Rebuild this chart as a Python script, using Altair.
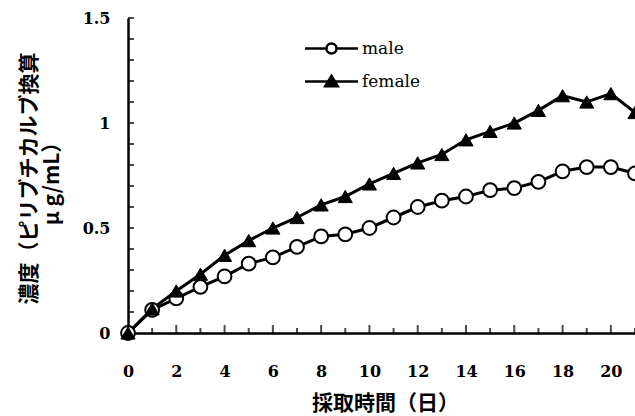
import altair as alt
import pandas as pd

# ---- data ----
days = list(range(22))
male = [0.0, 0.11, 0.165, 0.22, 0.27, 0.33, 0.36, 0.41, 0.46, 0.47, 0.50,
        0.55, 0.60, 0.63, 0.65, 0.68, 0.69, 0.72, 0.77, 0.79, 0.79, 0.76]
female = [0.0, 0.115, 0.20, 0.28, 0.37, 0.44, 0.50, 0.55, 0.61, 0.65, 0.71,
          0.76, 0.81, 0.85, 0.92, 0.96, 1.00, 1.06, 1.13, 1.10, 1.14, 1.05]
series_names = ["male", "female"]
x_tick_labels = [0, 2, 4, 6, 8, 10, 12, 14, 16, 18, 20]
y_tick_labels = [0, 0.5, 1, 1.5]
x_minor_odd = [1, 3, 5, 7, 9, 11, 13, 15, 17, 19, 21]
x_minor_even = [2, 4, 6, 8, 10, 12, 14, 16, 18, 20]
y_minor = [0.1, 0.2, 0.3, 0.4, 0.5, 0.6, 0.7, 0.8, 0.9, 1.0, 1.1, 1.2, 1.3, 1.4, 1.5]
x_title = "採取時間（日）"
y_title = ["濃度（ピリブチカルブ換算", "μ g/mL）"]

rows = []
for name, vals in zip(series_names, [male, female]):
    for d, v in zip(days, vals):
        rows.append({"day": d, "value": v, "series": name})
df = pd.DataFrame(rows)

W, H = 507, 315
SERIF = "DejaVu Serif"
CJK = "Noto Sans CJK JP"

x_scale = alt.Scale(domain=[0, 21], nice=False, zero=False)
y_scale = alt.Scale(domain=[0, 1.5], nice=False)

x_axis = alt.Axis(values=x_tick_labels, ticks=False, grid=False,
                  domainColor="black", domainWidth=2.5,
                  labelFont=SERIF, labelFontSize=16, labelFontWeight="bold",
                  labelColor="black", labelPadding=30, labelFlush=False,
                  labelOverlap=False,
                  title=x_title, titleFont=CJK, titleFontSize=21,
                  titleFontWeight="bold", titleColor="black",
                  titleX=257, titleY=70, titleBaseline="middle", titleAlign="center")
y_axis = alt.Axis(values=y_tick_labels, format="~g", ticks=False, grid=False,
                  domainColor="black", domainWidth=2.5,
                  labelFont=SERIF, labelFontSize=16, labelFontWeight="bold",
                  labelColor="black", labelPadding=18, labelFlush=False,
                  labelOverlap=False,
                  title=y_title, titleFont=CJK, titleFontSize=21,
                  titleFontWeight="bold", titleColor="black", titleAngle=270,
                  titleX=-99, titleY=160, titleBaseline="middle", titleAlign="center",
                  titleLineHeight=23)

def X():
    return alt.X("day:Q", scale=x_scale, axis=x_axis)

def Y():
    return alt.Y("value:Q", scale=y_scale, axis=y_axis)

y_ticks = alt.Chart(pd.DataFrame({"value": y_minor})).mark_tick(
    orient="horizontal", color="black", thickness=2, size=6
).encode(y=Y(), x=alt.value(3))

x_ticks_odd = alt.Chart(pd.DataFrame({"day": x_minor_odd})).mark_tick(
    orient="vertical", color="black", thickness=2, size=5
).encode(x=X(), y=alt.value(H - 2.5))

x_ticks_even = alt.Chart(pd.DataFrame({"day": x_minor_even})).mark_tick(
    orient="vertical", color="black", thickness=2, size=8
).encode(x=X(), y=alt.value(H - 4))

lines = alt.Chart(df).mark_line(strokeWidth=3, color="black").encode(
    x=X(), y=Y(), detail="series:N",
)

male_pts = alt.Chart(df).transform_filter(alt.datum.series == "male").mark_point(
    shape="circle", filled=True, fill="white", stroke="black", strokeWidth=2,
    size=190, opacity=1
).encode(x=X(), y=Y())

female_pts = alt.Chart(df).transform_filter(alt.datum.series == "female").mark_point(
    shape="triangle-up", filled=True, fill="black", stroke="black", strokeWidth=1,
    size=200, opacity=1
).encode(x=X(), y=Y())

# legend symbols: a line with the marker on it
male_sym = "M-5.3,0L-1,0M1,0L5.3,0M-1,0A1,1,0,1,0,1,0A1,1,0,1,0,-1,0"
female_sym = "M-5.3,0L5.3,0M0,-1.1L1.25,0.95L-1.25,0.95Z"

LX, LY = 195, 22
leg = alt.Legend(title=None, orient="none", legendX=LX, legendY=LY,
                 symbolSize=100, symbolStrokeColor="black", symbolStrokeWidth=2.5,
                 symbolOpacity=1, labelFont=SERIF, labelFontSize=17,
                 labelColor="black", labelOffset=22, rowPadding=12, padding=0)

legend_layer = alt.Chart(df).mark_point(opacity=0, filled=False, color="black").encode(
    x=X(), y=Y(),
    shape=alt.Shape("series:N",
                    scale=alt.Scale(domain=series_names, range=[male_sym, female_sym]),
                    legend=leg),
    fill=alt.Fill("series:N",
                  scale=alt.Scale(domain=series_names, range=["white", "black"]),
                  legend=leg),
    stroke=alt.Stroke("series:N",
                      scale=alt.Scale(domain=series_names, range=["black", "black"]),
                      legend=leg),
)

chart = alt.layer(y_ticks, x_ticks_odd, x_ticks_even, lines, male_pts, female_pts,
                  legend_layer).properties(
    width=W, height=H,
    autosize=alt.AutoSizeParams(type="none"),
    padding={"left": 128, "top": 18, "right": 0, "bottom": 83},
    background="white",
).configure_view(stroke=None)

chart.save("out.html", embed_options={"renderer": "svg", "actions": False})
